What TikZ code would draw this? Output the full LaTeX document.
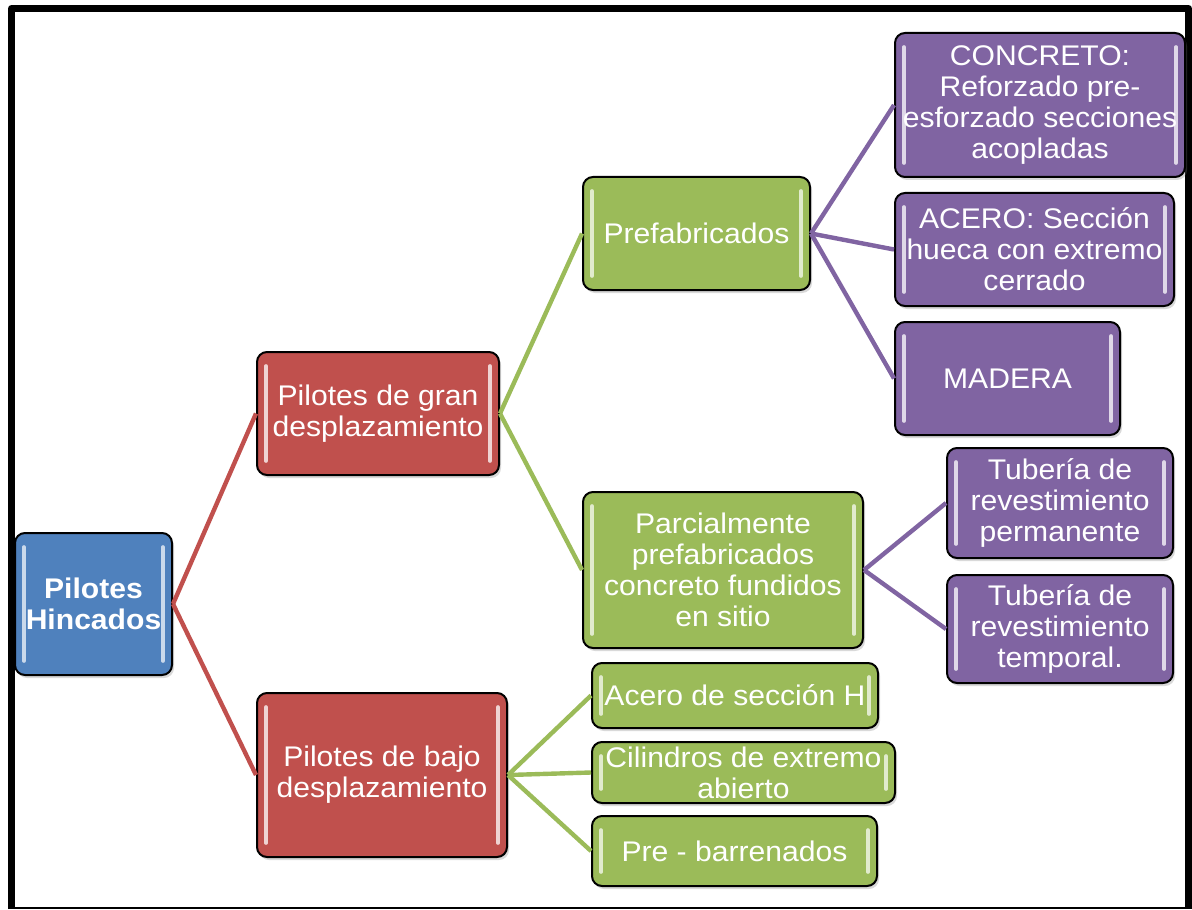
\documentclass[tikz,border=0pt]{standalone}
\usepackage{fontspec}
\setmainfont{Liberation Sans}[FakeStretch=1.06]
\usepackage{tikz}
\usetikzlibrary{positioning,shadows}

\definecolor{boxBlue}{HTML}{4F81BD}
\definecolor{boxRed}{HTML}{C0504D}
\definecolor{boxGreen}{HTML}{9BBB59}
\definecolor{boxPurple}{HTML}{8064A2}

\tikzset{
  hlcol/.store in=\hlcol, hlcol=white,
  box/.style={draw=black, line width=1pt, rounded corners=5pt, text=white,
    align=center, inner sep=0pt, font=\fontsize{14.2}{15.5}\selectfont,
    drop shadow={shadow xshift=1pt, shadow yshift=-1.5pt, opacity=0.3},
    path picture={
      \draw[\hlcol, line width=1.8pt, line cap=round]
        ([xshift=4.5pt,yshift=-7pt]path picture bounding box.north west) --
        ([xshift=4.5pt,yshift=7pt]path picture bounding box.south west)
        ([xshift=-4.5pt,yshift=-7pt]path picture bounding box.north east) --
        ([xshift=-4.5pt,yshift=7pt]path picture bounding box.south east);
    }},
  bluebox/.style={box, fill=boxBlue, hlcol=boxBlue!30!white,
    font=\bfseries\fontsize{14.2}{15.5}\selectfont},
  redbox/.style={box, fill=boxRed, hlcol=boxRed!25!white},
  greenbox/.style={box, fill=boxGreen, hlcol=boxGreen!30!white},
  purplebox/.style={box, fill=boxPurple, hlcol=boxPurple!25!white},
  link/.style={line width=2.2pt}
}

\begin{document}
\begin{tikzpicture}[x=0.5pt, y=-0.5pt]
    \useasboundingbox (0,0) rectangle (1192,909);

    % Frame
    \draw[line width=3.5pt, line join=round] (11.5,909) -- (11.5,8.5) -- (1188.5,8.5) -- (1188.5,909);
    \draw[line width=1pt] (11.5,907.5) -- (1188.5,907.5);

    % =====================================================
    % ROOT AND FIRST LEVEL
    % =====================================================
    \node[bluebox, minimum width=78.5pt, minimum height=71pt] (hinc) at (93.5,604) {Pilotes\\Hincados};

    \node[redbox, minimum width=121pt, minimum height=61.5pt] (gran) at (378,413.5) {Pilotes de gran\\desplazamiento};
    \node[redbox, minimum width=125pt, minimum height=82pt] (bajo) at (382,775) {Pilotes de bajo\\desplazamiento};

    % =====================================================
    % SECOND LEVEL (GREEN)
    % =====================================================
    \node[greenbox, minimum width=113.5pt, minimum height=56.5pt] (prefab) at (696.5,233.5) {Prefabricados};
    \node[greenbox, minimum width=140pt, minimum height=78pt] (parc) at (723,570) {Parcialmente\\prefabricados\\concreto fundidos\\en sitio};

    \node[greenbox, minimum width=143pt, minimum height=32.5pt] (aceroH) at (735,695.5) {Acero de secci\'on H};
    \node[greenbox, minimum width=151.5pt, minimum height=30.5pt] (cilind) at (743.5,772.5) {Cilindros de extremo\\abierto};
    \node[greenbox, minimum width=142.5pt, minimum height=35pt] (prebar) at (734.5,851) {Pre - barrenados};

    % =====================================================
    % THIRD LEVEL (PURPLE)
    % =====================================================
    \node[purplebox, minimum width=145pt, minimum height=72pt] (concreto) at (1040,105) {CONCRETO:\\Reforzado pre-\\esforzado secciones\\acopladas};
    \node[purplebox, minimum width=139.5pt, minimum height=56.5pt] (aceroS) at (1034.5,249.5) {ACERO: Secci\'on\\hueca con extremo\\cerrado};
    \node[purplebox, minimum width=112.5pt, minimum height=56.5pt] (madera) at (1007.5,378.5) {MADERA};

    \node[purplebox, minimum width=113pt, minimum height=55pt] (tubperm) at (1060,503) {Tuber\'ia de\\revestimiento\\permanente};
    \node[purplebox, minimum width=113pt, minimum height=54pt] (tubtemp) at (1060,629) {Tuber\'ia de\\revestimiento\\temporal.};

    % Connectors
    \foreach \a/\b in {hinc/gran, hinc/bajo}
        \draw[link, boxRed] (\a.east) -- (\b.west);
    \foreach \a/\b in {gran/prefab, gran/parc, bajo/aceroH, bajo/cilind, bajo/prebar}
        \draw[link, boxGreen] (\a.east) -- (\b.west);
    \foreach \a/\b in {prefab/concreto, prefab/aceroS, prefab/madera, parc/tubperm, parc/tubtemp}
        \draw[link, boxPurple] (\a.east) -- (\b.west);

\end{tikzpicture}
\end{document}
